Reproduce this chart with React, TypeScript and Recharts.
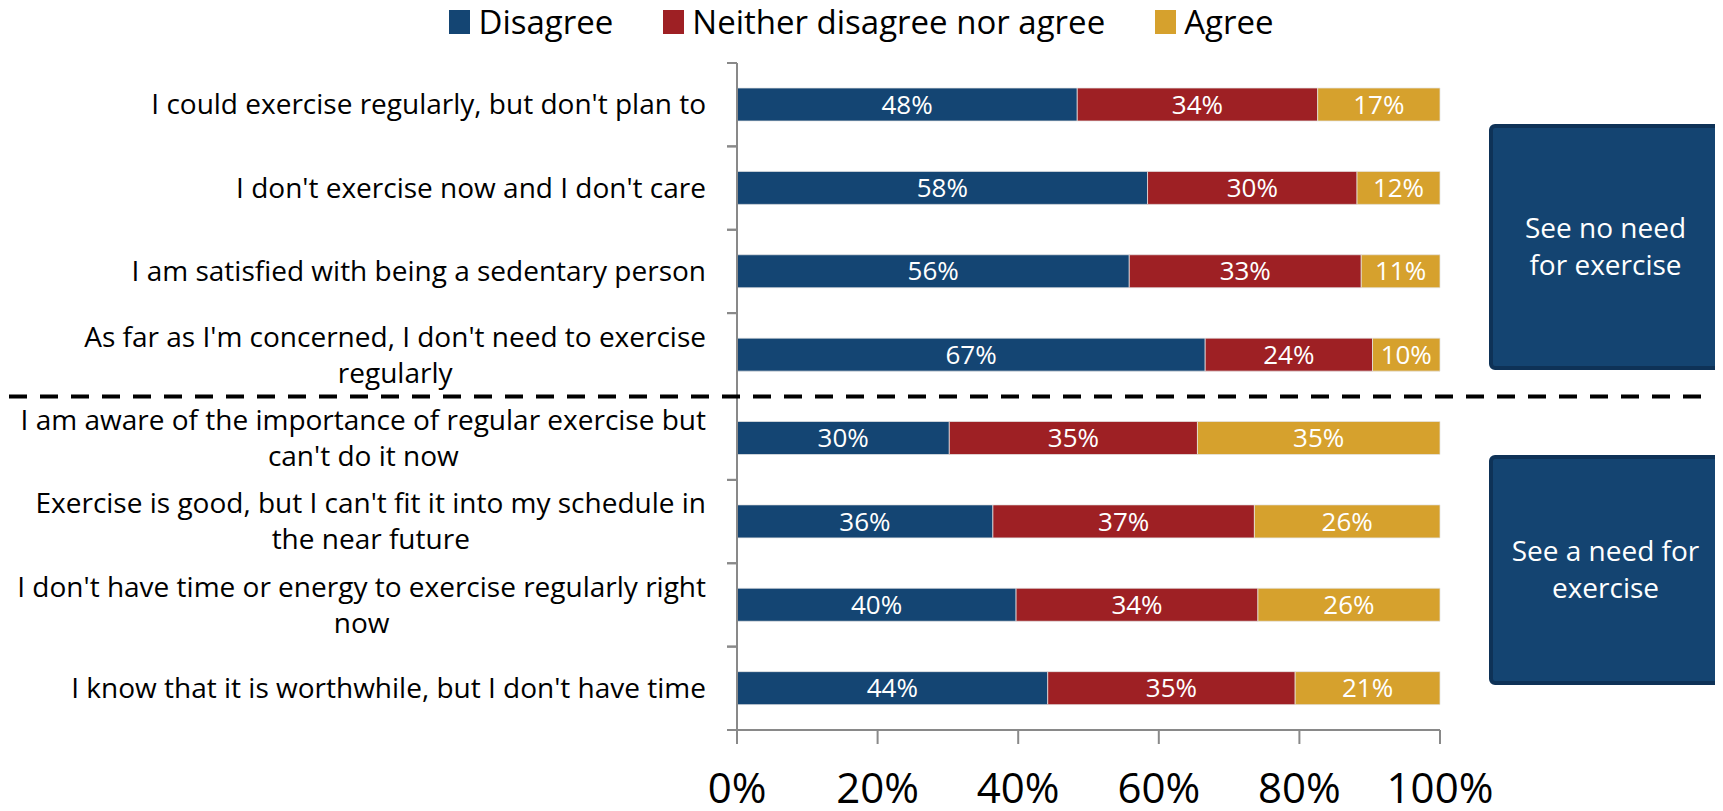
import React from 'react';
import { BarChart, Bar, XAxis, YAxis, LabelList, Legend } from 'recharts';

// ---------- data ----------
const categories: string[] = [
  "I could exercise regularly, but don't plan to",
  "I don't exercise now and I don't care",
  "I am satisfied with being a sedentary person",
  "As far as I'm concerned, I don't need to exercise\nregularly",
  "I am aware of the importance of regular exercise but\ncan't do it now",
  "Exercise is good, but I can't fit it into my schedule in\nthe near future",
  "I don't have time or energy to exercise regularly right\nnow",
  "I know that it is worthwhile, but I don't have time",
];
const disagreeValues: number[] = [48.4, 58.4, 55.8, 66.6, 30.2, 36.4, 39.7, 44.2];
const neitherValues: number[] = [34.2, 29.8, 33.0, 23.8, 35.3, 37.2, 34.4, 35.2];
const agreeValues: number[] = [17.4, 11.8, 11.2, 9.6, 34.5, 26.4, 25.9, 20.6];
const seriesNames: string[] = ['Disagree', 'Neither disagree nor agree', 'Agree'];
const xTicks: number[] = [0, 20, 40, 60, 80, 100];
const groupBoxLabels: string[][] = [
  ['See no need', 'for exercise'],
  ['See a need for', 'exercise'],
];

const data = categories.map((c, i) => ({
  category: c,
  disagree: disagreeValues[i],
  neither: neitherValues[i],
  agree: agreeValues[i],
}));

// ---------- layout / style ----------
const W = 1723;
const H = 811;
const PLOT_TOP = 63;
const PLOT_BOTTOM = 730;
const PLOT_LEFT = 737;
const PLOT_RIGHT = 1440;
const BAND = (PLOT_BOTTOM - PLOT_TOP) / categories.length;
const FONT = "'Open Sans', sans-serif";
const AXIS_GRAY = '#898989';
const COLORS = ['#144573', '#9E2024', '#D6A12D'];
const BOX_FILL = '#144471';
const BOX_BORDER = '#0E3257';

let measureCtx: CanvasRenderingContext2D | null = null;
function measure(text: string, font: string): number {
  if (!measureCtx) measureCtx = document.createElement('canvas').getContext('2d');
  if (!measureCtx) return text.length * 13;
  measureCtx.font = font;
  return measureCtx.measureText(text).width;
}

const CategoryTick = (props: any) => {
  const { x, y, payload } = props;
  const lines = String(payload.value).split('\n');
  const right = x - 31;
  const lineGap = 36;
  const fs = 28;
  let textEls;
  if (lines.length === 1) {
    textEls = (
      <text x={right} y={y} dy="0.35em" textAnchor="end" fontSize={fs} fill="#000" fontFamily={FONT}>
        {lines[0]}
      </text>
    );
  } else {
    const w1 = measure(lines[0], `${fs}px 'Open Sans'`);
    const cx = right - w1 / 2;
    textEls = lines.map((ln, i) => (
      <text
        key={i}
        x={cx}
        y={y + (i - (lines.length - 1) / 2) * lineGap}
        dy="0.35em"
        textAnchor="middle"
        fontSize={fs}
        fill="#000"
        fontFamily={FONT}
      >
        {ln}
      </text>
    ));
  }
  return (
    <g>
      <line x1={x - 10} x2={x} y1={y - BAND / 2} y2={y - BAND / 2} stroke={AXIS_GRAY} strokeWidth={2} />
      <line x1={x - 10} x2={x} y1={y + BAND / 2} y2={y + BAND / 2} stroke={AXIS_GRAY} strokeWidth={2} />
      {textEls}
    </g>
  );
};

const PercentTick = (props: any) => {
  const { x, y, payload } = props;
  return (
    <text x={x} y={y + 59} textAnchor="middle" fontSize={42} fill="#000" fontFamily={FONT}>
      {`${payload.value}%`}
    </text>
  );
};

const LegendContent = (props: any) => {
  const payload = [...(props.payload || [])].sort(
    (a: any, b: any) => seriesNames.indexOf(a.value) - seriesNames.indexOf(b.value)
  );
  return (
    <div
      style={{
        display: 'flex',
        justifyContent: 'center',
        alignItems: 'center',
        gap: 50,
        fontSize: 33,
        fontFamily: FONT,
        color: '#000',
        height: 44,
        lineHeight: '44px',
      }}
    >
      {payload.map((p: any) => (
        <div key={p.value} style={{ display: 'flex', alignItems: 'center' }}>
          <span style={{ width: 21, height: 24, background: p.color, marginRight: 8, display: 'inline-block' }} />
          <span>{p.value}</span>
        </div>
      ))}
    </div>
  );
};

const pct = (v: any) => `${Math.round(Number(v))}%`;

const boxes = [
  { x: 1491, y: 126, w: 229, h: 242 },
  { x: 1491, y: 457, w: 229, h: 226 },
];

export default function App() {
  const dividerY = PLOT_TOP + 4 * BAND;
  return (
    <div style={{ position: 'relative', width: W, height: H, margin: -8, fontFamily: FONT, background: '#fff' }}>
      <BarChart
        width={W}
        height={H}
        data={data}
        layout="vertical"
        margin={{ top: PLOT_TOP, right: W - PLOT_RIGHT, bottom: 0, left: 0 }}
        style={{ fontFamily: FONT }}
      >
        <XAxis
          type="number"
          domain={[0, 100]}
          ticks={xTicks}
          height={H - PLOT_BOTTOM}
          axisLine={{ stroke: AXIS_GRAY, strokeWidth: 2 }}
          tickLine={{ stroke: AXIS_GRAY, strokeWidth: 2 }}
          tickSize={14}
          tickMargin={0}
          tick={<PercentTick />}
          interval={0}
        />
        <YAxis
          type="category"
          dataKey="category"
          width={PLOT_LEFT}
          axisLine={{ stroke: AXIS_GRAY, strokeWidth: 2 }}
          tickLine={false}
          tickSize={0}
          tickMargin={0}
          tick={<CategoryTick />}
          interval={0}
        />
        <Legend
          verticalAlign="middle"
          align="center"
          content={<LegendContent />}
          wrapperStyle={{ top: 0, left: 0, width: W }}
        />
        <Bar dataKey="disagree" name={seriesNames[0]} stackId="s" fill={COLORS[0]} barSize={33} stroke="#e4e4e4" strokeWidth={0.75} isAnimationActive={false}>
          <LabelList dataKey="disagree" position="center" fill="#fff" fontSize={26} fontFamily={FONT} formatter={pct} />
        </Bar>
        <Bar dataKey="neither" name={seriesNames[1]} stackId="s" fill={COLORS[1]} barSize={33} stroke="#e4e4e4" strokeWidth={0.75} isAnimationActive={false}>
          <LabelList dataKey="neither" position="center" fill="#fff" fontSize={26} fontFamily={FONT} formatter={pct} />
        </Bar>
        <Bar dataKey="agree" name={seriesNames[2]} stackId="s" fill={COLORS[2]} barSize={33} stroke="#e4e4e4" strokeWidth={0.75} isAnimationActive={false}>
          <LabelList dataKey="agree" position="center" fill="#fff" fontSize={26} fontFamily={FONT} formatter={pct} />
        </Bar>
      </BarChart>
      <svg
        width={W}
        height={H}
        style={{ position: 'absolute', left: 0, top: 0, pointerEvents: 'none' }}
      >
        <line x1={9} x2={1703} y1={dividerY} y2={dividerY} stroke="#000" strokeWidth={4} strokeDasharray="18 13" />
        {boxes.map((b, i) => {
          const lines = groupBoxLabels[i];
          const cy = b.y + b.h / 2;
          return (
            <g key={i}>
              <rect x={b.x} y={b.y} width={b.w} height={b.h} rx={4} fill={BOX_FILL} stroke={BOX_BORDER} strokeWidth={4} />
              {lines.map((ln, j) => (
                <text
                  key={j}
                  x={b.x + b.w / 2}
                  y={cy + (j - (lines.length - 1) / 2) * 37}
                  dy="0.35em"
                  textAnchor="middle"
                  fontSize={28}
                  fill="#fff"
                  fontFamily={FONT}
                >
                  {ln}
                </text>
              ))}
            </g>
          );
        })}
      </svg>
    </div>
  );
}
